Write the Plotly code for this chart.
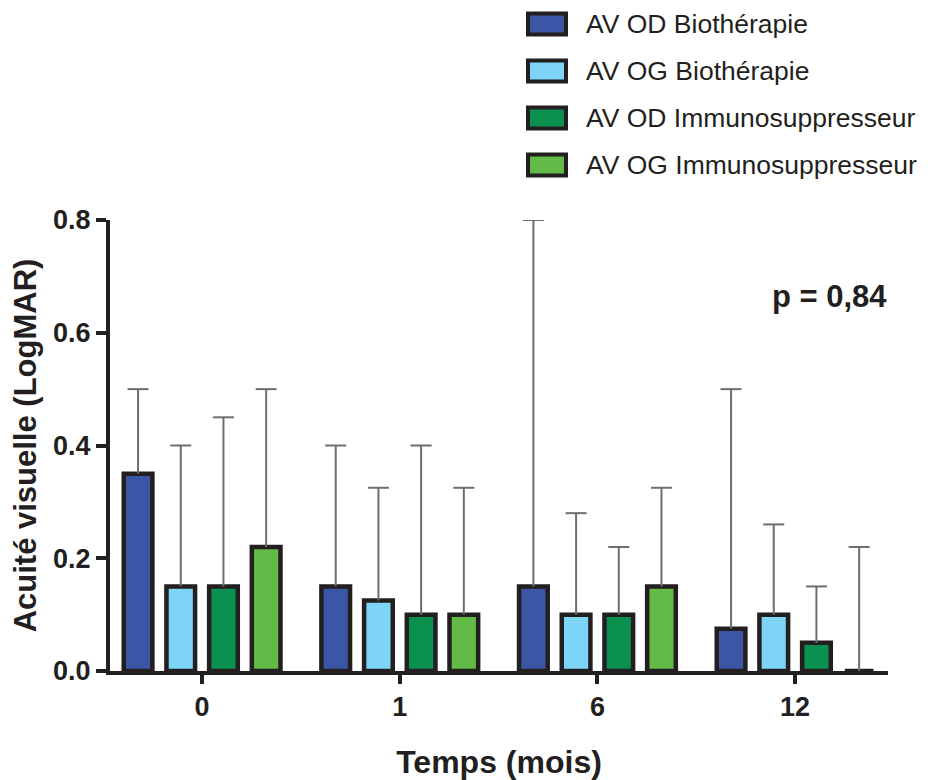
import plotly.graph_objects as go

categories = ["0", "1", "6", "12"]
series_names = ["AV OD Biothérapie", "AV OG Biothérapie",
                "AV OD Immunosuppresseur", "AV OG Immunosuppresseur"]
series_colors = ["#3A56A5", "#7DD4F7", "#0A9150", "#63BA46"]
od_bio = [0.35, 0.15, 0.15, 0.075]
og_bio = [0.15, 0.125, 0.10, 0.10]
od_imm = [0.15, 0.10, 0.10, 0.05]
og_imm = [0.22, 0.10, 0.15, 0.0]
od_bio_top = [0.50, 0.40, 0.80, 0.50]
og_bio_top = [0.40, 0.325, 0.28, 0.26]
od_imm_top = [0.45, 0.40, 0.22, 0.15]
og_imm_top = [0.50, 0.325, 0.325, 0.22]
y_ticks = [0.0, 0.2, 0.4, 0.6, 0.8]
y_ticklabels = ["0.0", "0.2", "0.4", "0.6", "0.8"]

values = [od_bio, og_bio, od_imm, og_imm]
tops = [od_bio_top, og_bio_top, od_imm_top, og_imm_top]

DARK = "#231F20"
GREY = "#6D6E71"
FONT = "Liberation Sans, Arial, Helvetica, sans-serif"

# page body has an 8px margin; screen coords = figure coords + 8
OFF = 8
W, H = 933 - OFF, 780 - OFF
L, T = 110 - OFF, 220 - OFF
R = 933 - 888
B = H - T - (671 - 220)
PW, PH = W - L - R, H - T - B

def px_x(x):
    return (x - OFF - L) / PW

def px_y(y):
    return (H - B - (y - OFF)) / PH

slot = 0.216      # spacing between bars of a group (x units)
bar_w = 0.145     # bar width (x units)
xpos = list(range(len(categories)))

fig = go.Figure()
n = len(series_names)
for k, (name, col, vals, top) in enumerate(zip(series_names, series_colors, values, tops)):
    shift = (k - (n - 1) / 2) * slot
    fig.add_trace(go.Bar(
        name=name, x=xpos, y=vals,
        width=bar_w, offset=shift - bar_w / 2,
        marker=dict(color=col, line=dict(color=DARK, width=4.5)),
        error_y=dict(type="data", symmetric=False,
                     array=[t - v for t, v in zip(top, vals)],
                     arrayminus=[0] * len(vals),
                     color=GREY, thickness=2, width=0),
        showlegend=False,
    ))
for k, top in enumerate(tops):
    shift = (k - (n - 1) / 2) * slot
    fig.add_trace(go.Scatter(
        x=[xi + shift for xi in xpos], y=top, mode="markers",
        marker=dict(symbol="line-ew", size=15, color=GREY,
                    line=dict(color=GREY, width=2)),
        showlegend=False, hoverinfo="skip",
    ))

shapes = []
annotations = []
leg_centers = [24, 71, 118, 165]
for name, col, cy in zip(series_names, series_colors, leg_centers):
    shapes.append(dict(type="rect", xref="paper", yref="paper",
                       x0=px_x(528), x1=px_x(566),
                       y0=px_y(cy + 10.5), y1=px_y(cy - 10.5),
                       fillcolor=col, line=dict(color=DARK, width=4)))
    annotations.append(dict(xref="paper", yref="paper", x=px_x(584), y=px_y(cy),
                            xanchor="left", yanchor="middle", showarrow=False,
                            text=name, font=dict(family=FONT, size=26.5, color=DARK)))

annotations.append(dict(xref="paper", yref="paper", x=px_x(829), y=px_y(296),
                        xanchor="center", yanchor="middle", showarrow=False,
                        text="<b>p = 0,84</b>",
                        font=dict(family=FONT, size=31, color=DARK)))

fig.update_layout(
    width=W, height=H,
    margin=dict(l=L, r=R, t=T, b=B, pad=0, autoexpand=False),
    paper_bgcolor="white", plot_bgcolor="white",
    barmode="overlay",
    font=dict(family=FONT, color=DARK),
    shapes=shapes, annotations=annotations,
    xaxis=dict(range=[-0.466, 3.47], tickvals=xpos, automargin=False,
               ticktext=["<b>%s</b>" % c for c in categories],
               showline=True, linecolor=DARK, linewidth=4,
               ticks="outside", ticklen=9, tickwidth=4, tickcolor=DARK,
               showgrid=False, zeroline=False,
               tickfont=dict(family=FONT, size=27, color=DARK),
               title=dict(text="<b>Temps (mois)</b>", standoff=30,
                          font=dict(family=FONT, size=32, color=DARK))),
    yaxis=dict(range=[0, 0.8], tickvals=y_ticks, automargin=False,
               ticktext=["<b>%s</b>" % t for t in y_ticklabels],
               showline=True, linecolor=DARK, linewidth=4,
               ticks="outside", ticklen=10, tickwidth=4, tickcolor=DARK,
               showgrid=False, zeroline=False,
               tickfont=dict(family=FONT, size=27, color=DARK),
               title=dict(text="<b>Acuité visuelle (LogMAR)</b>", standoff=10,
                          font=dict(family=FONT, size=31, color=DARK))),
)

fig.write_html("out.html")
